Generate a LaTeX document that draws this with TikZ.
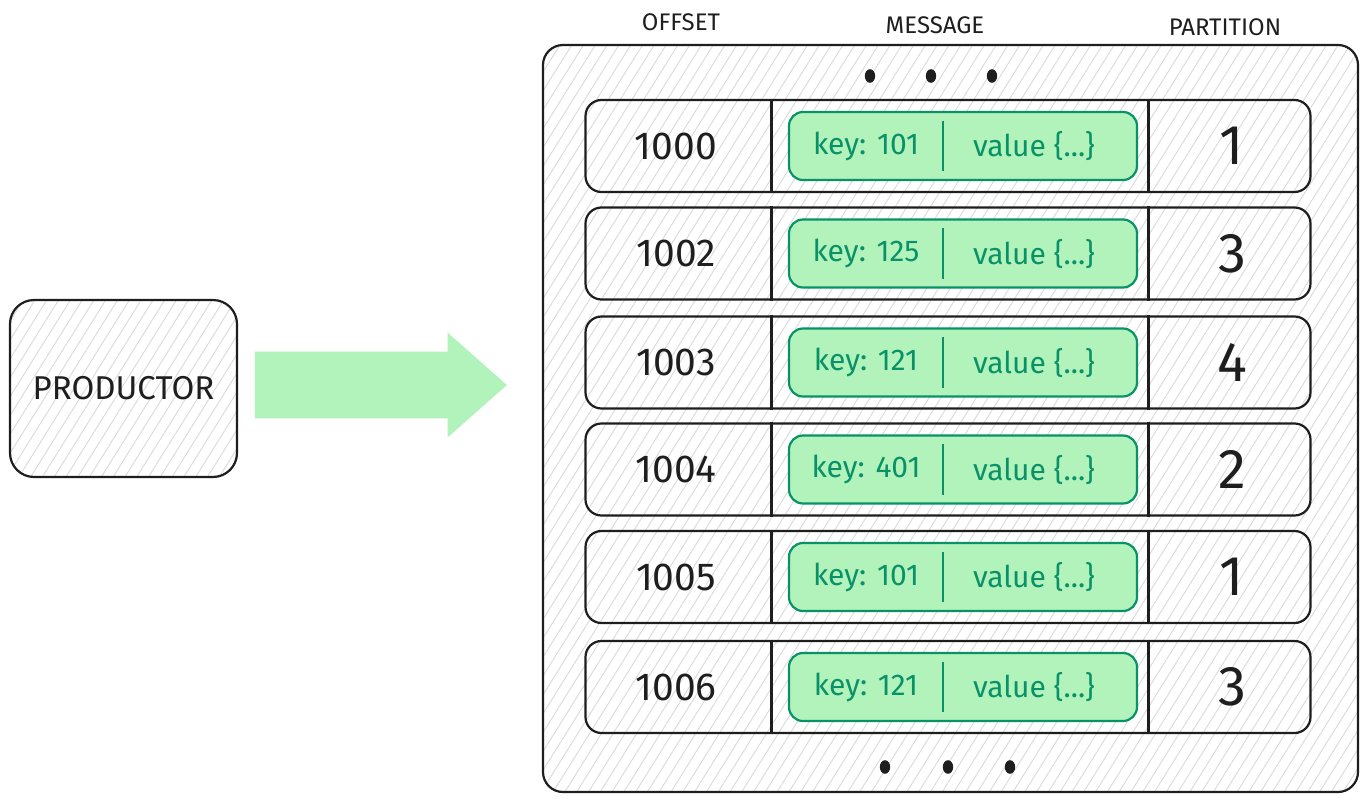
\documentclass[tikz,border=0pt]{standalone}
\usepackage{fontspec}
\setmainfont{Fira Sans}
\usetikzlibrary{patterns.meta, shapes.arrows}
\definecolor{ink}{HTML}{1E1E1E}
\definecolor{mint}{HTML}{B2F2BB}
\definecolor{msgline}{HTML}{099268}
\definecolor{hatch}{HTML}{DADADA}
\tikzset{
  sketch/.style={draw=ink, line width=1.1pt, preaction={fill=white},
    pattern={Lines[angle=58, distance=5pt, line width=0.45pt]}, pattern color=hatch},
  rowbox/.style={sketch, rounded corners=8pt, minimum width=362.5pt, minimum height=46pt},
  msgbox/.style={draw=msgline, line width=1.1pt, fill=mint, rounded corners=7pt,
    minimum width=174pt, minimum height=34pt},
  head/.style={font=\fontsize{12}{14}\selectfont, text=ink},
  offtext/.style={font=\fontsize{19.5}{22}\selectfont, text=ink},
  msgtext/.style={font=\fontsize{15}{17}\selectfont, text=msgline},
  parttext/.style={font=\fontsize{28}{30}\selectfont, text=ink},
}
\begin{document}
\begin{tikzpicture}[x=0.5pt, y=-0.5pt]
\useasboundingbox (0,0) rectangle (1367,809);

\node (prod) at (123.5, 388.5) [sketch, rounded corners=12pt, minimum width=113.5pt,
  minimum height=88.5pt, font=\fontsize{16.5}{19}\selectfont, text=ink] {PRODUCTOR};
\node (flow) at (362, 385) [single arrow, fill=mint, draw=none, inner sep=16.5pt,
  minimum height=126pt, single arrow head extend=9.5pt, single arrow tip angle=83] {};

\node (topic) at (950.5, 418.5) [sketch, rounded corners=10pt, minimum width=407.5pt,
  minimum height=373.5pt] {};

\node (hoff) at (681, 22) [head] {OFFSET};
\node (hmsg) at (935, 25) [head] {MESSAGE};
\node (hpart) at (1225, 27) [head] {PARTITION};

\fill[ink] (870, 76) ellipse [x radius=2.6pt, y radius=3.4pt];
\fill[ink] (931, 76) ellipse [x radius=2.6pt, y radius=3.4pt];
\fill[ink] (992, 76) ellipse [x radius=2.6pt, y radius=3.4pt];

\foreach \y/\off/\k/\p [count=\i] in {146/1000/101/1, 253.5/1002/125/3, 362.5/1003/121/4,
    469.5/1004/401/2, 577/1005/101/1, 687/1006/121/3} {
  \node (row\i) at (948, \y) [rowbox] {};
  \draw[ink, line width=1.1pt] ([xshift=93.5pt]row\i.north west) -- ([xshift=93.5pt]row\i.south west);
  \draw[ink, line width=1.1pt] ([xshift=282pt]row\i.north west) -- ([xshift=282pt]row\i.south west);
  \node (msg\i) at (963, \y) [msgbox] {};
  \draw[msgline, line width=1pt] ([xshift=-10pt, yshift=-5pt]msg\i.north) -- ([xshift=-10pt, yshift=5pt]msg\i.south);
  \node (off\i) at (676, \y) [offtext] {\off};
  \node (key\i) at (866, \y) [msgtext] {key: \k};
  \node (val\i) at (1034, \y) [msgtext] {value \{...\}};
  \node (part\i) at (1232, \y) [parttext] {\p};
}

\fill[ink] (885, 767) ellipse [x radius=2.6pt, y radius=3.4pt];
\fill[ink] (948, 767) ellipse [x radius=2.6pt, y radius=3.4pt];
\fill[ink] (1010, 767) ellipse [x radius=2.6pt, y radius=3.4pt];
\end{tikzpicture}
\end{document}
